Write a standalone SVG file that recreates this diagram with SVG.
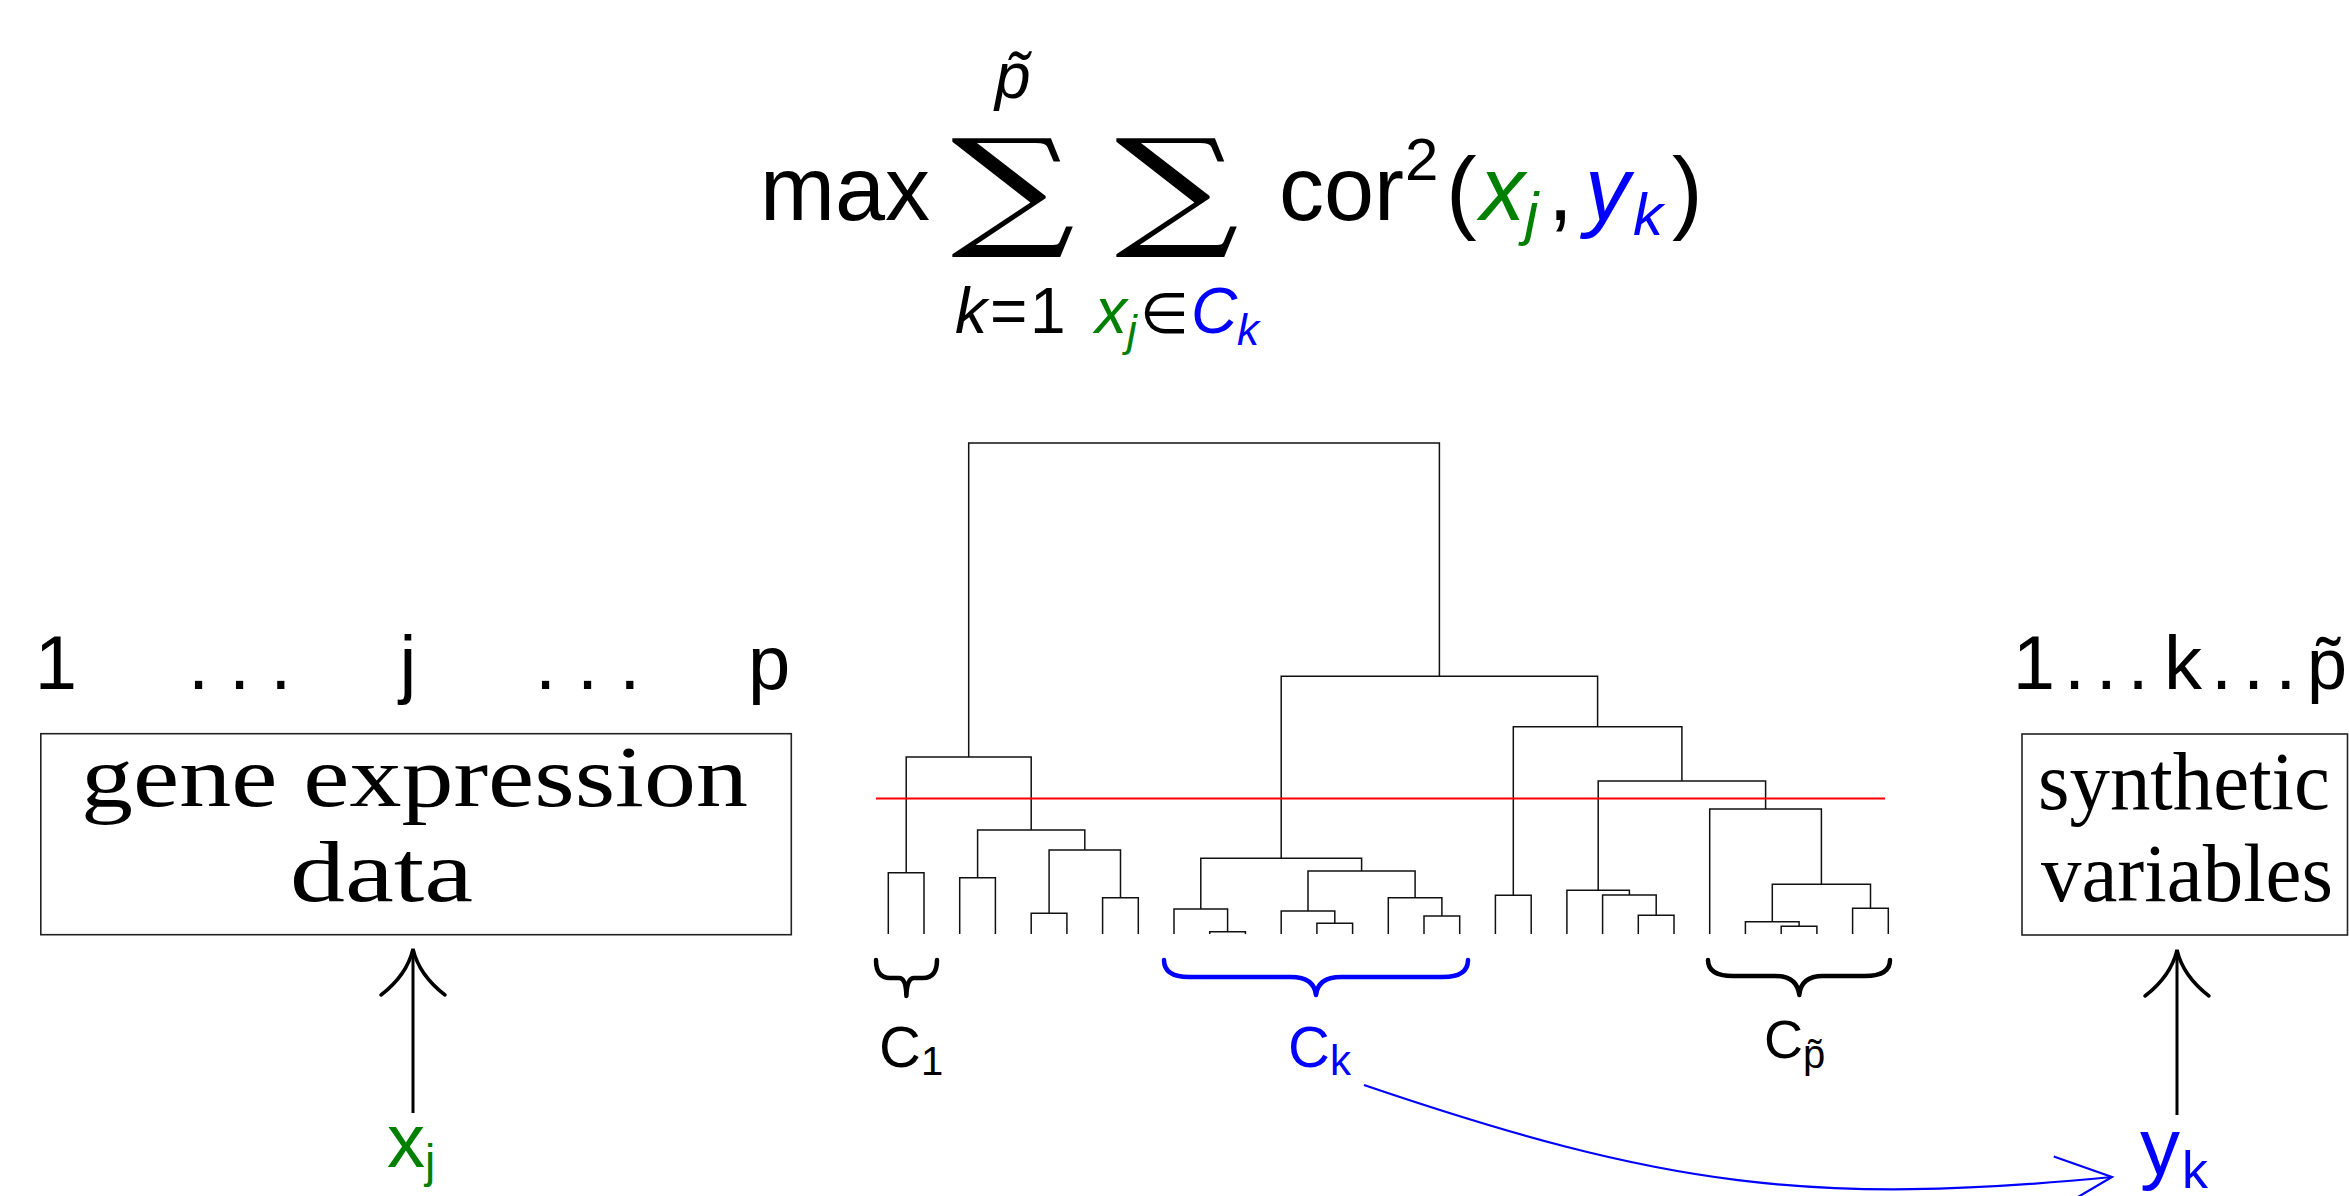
<svg xmlns="http://www.w3.org/2000/svg" width="2349" height="1196" viewBox="0 0 2349 1196">
<defs>
<style>
.sans{font-family:"Liberation Sans","DejaVu Sans",sans-serif}
.serif{font-family:"Liberation Serif","DejaVu Serif",serif}
.math{font-family:"DejaVu Sans",sans-serif}
.bigop{font-family:"DejaVu Serif",serif}
.it{font-style:italic}
.up{font-style:normal}
.g{fill:#008000}
.b{fill:#0000ff}
.box{fill:none;stroke:#222;stroke-width:1.6}
.tree path{fill:none;stroke:#111;stroke-width:1.5}
.brace{fill:none;stroke-width:4.5;stroke-linecap:round;stroke-linejoin:round}
</style>
<marker id="upTip" markerUnits="userSpaceOnUse" orient="auto" overflow="visible" markerWidth="60" markerHeight="80" refX="0" refY="0">
<path d="M-46,-32 Q-26,-6 0,0 Q-26,6 -46,32" fill="none" stroke="#000" stroke-width="3.5" stroke-linecap="round"/>
</marker>
<marker id="blueTip" markerUnits="userSpaceOnUse" orient="auto" overflow="visible" markerWidth="70" markerHeight="70" refX="0" refY="0">
<path d="M-56,-26 L0,0 L-56,26" fill="none" stroke="#0000ff" stroke-width="2.2"/>
</marker>
</defs>
<rect width="2349" height="1196" fill="#fff"/>

<g id="formula">
<text class="bigop" x="951" y="232" font-size="130" textLength="124" lengthAdjust="spacingAndGlyphs">∑</text>
<text class="bigop" x="1115" y="232" font-size="130" textLength="124" lengthAdjust="spacingAndGlyphs">∑</text>
<text class="sans it" x="995" y="98" font-size="64">p&#x303;</text>
<text class="sans" font-size="90"><tspan x="760" y="220">max</tspan><tspan x="1279" y="220">cor</tspan><tspan x="1405" y="180" font-size="60">2</tspan><tspan x="1446" y="222" font-size="92">(</tspan><tspan class="it g" x="1480" y="220">x</tspan><tspan class="it g" x="1525" y="234" font-size="60">j</tspan><tspan x="1548" y="220">,</tspan><tspan class="it b" x="1585" y="220">y</tspan><tspan class="it b" x="1633" y="235" font-size="60">k</tspan><tspan x="1672" y="222" font-size="92">)</tspan></text>
<text class="sans" font-size="64"><tspan class="it" x="955" y="333">k</tspan><tspan x="990" y="333">=</tspan><tspan x="1030" y="333">1</tspan></text>
<text class="sans" font-size="64"><tspan class="it g" x="1095" y="333">x</tspan><tspan class="it g" x="1127" y="346" font-size="44">j</tspan><tspan class="math" x="1140" y="333" font-size="56">∈</tspan><tspan class="it b" x="1191" y="333">C</tspan><tspan class="it b" x="1237" y="345" font-size="44">k</tspan></text>
</g>

<g id="dendrogram" class="tree">
<path d="M888.3,934V872.7H924V934"/>
<path d="M959.7,934V877.7H995.4V934"/>
<path d="M1031.2,934V913.3H1066.9V934"/>
<path d="M1102.6,934V897.7H1138.3V934"/>
<path d="M1049.1,913.3V850H1120.5V897.7"/>
<path d="M977.6,877.7V830H1084.8V850"/>
<path d="M906.2,872.7V757H1031.2V830"/>
<path d="M1209.7,934V931.7H1245.4V934"/>
<path d="M1174,934V909H1227.6V931.7"/>
<path d="M1316.9,934V923.3H1352.6V934"/>
<path d="M1281.2,934V911H1334.8V923.3"/>
<path d="M1424,934V916H1459.7V934"/>
<path d="M1388.3,934V897.7H1441.9V916"/>
<path d="M1308,911V871H1415.1V897.7"/>
<path d="M1200.8,909V858.3H1361.6V871"/>
<path d="M1495.4,934V895.3H1531.2V934"/>
<path d="M1638.3,934V915.3H1674V934"/>
<path d="M1602.6,934V895H1656.2V915.3"/>
<path d="M1566.9,934V890.3H1629.4V895"/>
<path d="M1781.2,934V926.3H1816.9V934"/>
<path d="M1745.4,934V921.7H1799.1V926.3"/>
<path d="M1852.6,934V908.3H1888.3V934"/>
<path d="M1772.3,921.7V884.3H1870.5V908.3"/>
<path d="M1709.7,934V809H1821.4V884.3"/>
<path d="M1598.2,890.3V781H1765.6V809"/>
<path d="M1513.3,895.3V726.7H1681.9V781"/>
<path d="M1281.2,858.3V676.3H1597.6V726.7"/>
<path d="M968.7,757V443H1439.4V676.3"/>
</g>

<g id="cut-line">
<line x1="876" y1="798.5" x2="1885" y2="798.5" stroke="#ff0000" stroke-width="2"/>
</g>

<g id="cluster-C1">
<path class="brace" stroke="#000" d="M876,960 Q876,978 890,978 L899,978 Q906,978 906.4,996 Q907,978 914,978 L923,978 Q937,978 937,960"/>
<text class="sans" font-size="58"><tspan x="879" y="1067">C</tspan><tspan x="921" y="1075" font-size="40">1</tspan></text>
</g>
<g id="cluster-Ck">
<path class="brace" stroke="#0000ff" d="M1164,960 Q1164,977 1189,977 L1291,977 Q1314,977 1316,995 Q1318,977 1341,977 L1443,977 Q1468,977 1468,960"/>
<text class="sans b" font-size="58"><tspan x="1288" y="1067">C</tspan><tspan x="1330" y="1075" font-size="42">k</tspan></text>
</g>
<g id="cluster-Cp">
<path class="brace" stroke="#000" d="M1708,960 Q1708,976 1733,976 L1775,976 Q1797,976 1799.3,995 Q1801,976 1823,976 L1865,976 Q1890,976 1890,960"/>
<text class="sans" font-size="54"><tspan x="1764" y="1058">C</tspan><tspan x="1803" y="1068" font-size="40">p&#x303;</tspan></text>
</g>

<g id="gene-expression" class="sans">
<text x="56" y="689" font-size="76" text-anchor="middle">1</text>
<text x="188" y="689" font-size="76" letter-spacing="20">...</text>
<text x="408" y="689" font-size="76" text-anchor="middle">j</text>
<text x="535" y="689" font-size="76" letter-spacing="21">...</text>
<text x="748" y="689" font-size="76">p</text>
<rect class="box" x="40.8" y="733.7" width="750.5" height="201"/>
<text class="serif" x="81" y="806" font-size="86" textLength="667" lengthAdjust="spacingAndGlyphs">gene expression</text>
<text class="serif" x="290" y="901" font-size="86" textLength="183" lengthAdjust="spacingAndGlyphs">data</text>
</g>

<g id="synthetic-variables" class="sans">
<text x="2034" y="689" font-size="76" text-anchor="middle">1</text>
<text x="2064" y="689" font-size="76" letter-spacing="10.6">...</text>
<text x="2183" y="689" font-size="76" text-anchor="middle">k</text>
<text x="2211" y="689" font-size="76" letter-spacing="11">...</text>
<text x="2307" y="689" font-size="72">p&#x303;</text>
<rect class="box" x="2022" y="734" width="325.5" height="201"/>
<text class="serif" x="2038" y="809" font-size="82" textLength="292" lengthAdjust="spacingAndGlyphs">synthetic</text>
<text class="serif" x="2041" y="901" font-size="82" textLength="292" lengthAdjust="spacingAndGlyphs">variables</text>
</g>

<g id="xj">
<text class="sans g" font-size="76"><tspan x="387" y="1167">x</tspan><tspan x="425" y="1177" font-size="46">j</tspan></text>
</g>
<g id="yk">
<text class="sans b" font-size="80"><tspan x="2140" y="1174">y</tspan><tspan x="2182" y="1188" font-size="52">k</tspan></text>
</g>

<g id="connectors">
<line x1="413" y1="1113" x2="413" y2="949" stroke="#000" stroke-width="3" marker-end="url(#upTip)"/>
<line x1="2177" y1="1115" x2="2177" y2="950" stroke="#000" stroke-width="3" marker-end="url(#upTip)"/>
<path d="M1364,1085 C1664,1187 1812,1206 2112,1177" fill="none" stroke="#0000ff" stroke-width="2.2" marker-end="url(#blueTip)"/>
</g>
</svg>
